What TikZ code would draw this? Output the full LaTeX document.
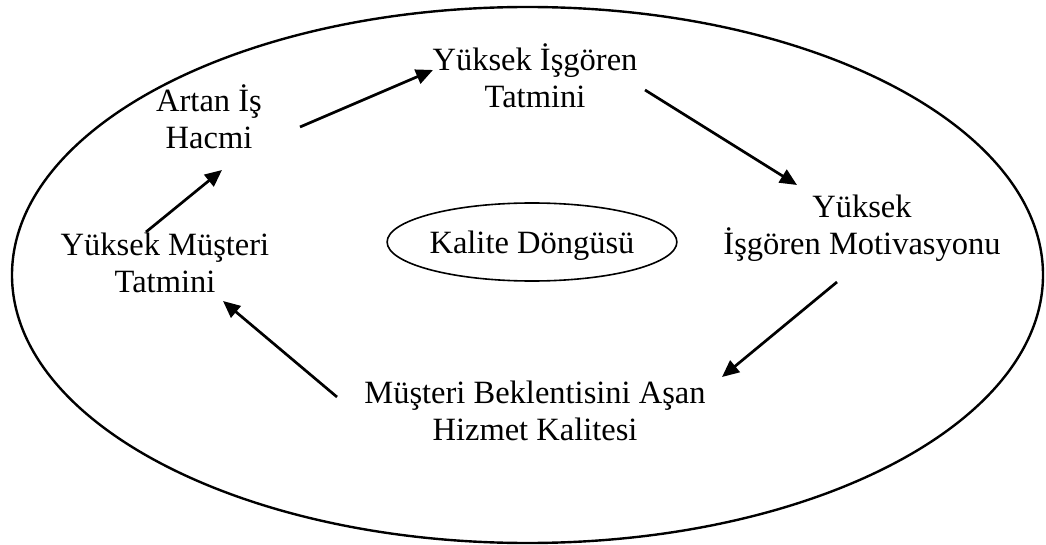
\documentclass[tikz,border=0pt]{standalone}
\usepackage{fontspec}
\setmainfont{Liberation Serif}
\usetikzlibrary{arrows.meta,shapes.geometric}
\begin{document}
\begin{tikzpicture}[x=1pt,y=-1pt,
  lbl/.style={align=center,inner sep=0pt,font=\fontsize{32.5}{37}\selectfont},
  flow/.style={line width=2.7pt,-{Triangle[length=17pt,width=15pt]}},
  ring/.style={line width=2.4pt}]
\useasboundingbox (0,0) rectangle (1046,545);
% outer cycle
\draw[ring] (527.5,275) ellipse [x radius=515.5, y radius=268];
% stages of the cycle
\node[lbl] (hacim) at (209,117) {Artan İş\\Hacmi};
\node[lbl] (tatmin) at (535,76) {Yüksek İşgören\\Tatmini};
\node[lbl] (motiv) at (862,228) {Yüksek\\İşgören Motivasyonu};
\node[lbl] (hizmet) at (535,411) {Müşteri Beklentisini Aşan\\Hizmet Kalitesi};
\node[lbl] (musteri) at (165,263) {Yüksek Müşteri\\Tatmini};
% centre label
\node[lbl,draw,ellipse,line width=1.6pt,text depth=0pt,minimum width=238pt,minimum height=78pt] (kalite) at (532,242) {Kalite Döngüsü};
% arrow ends
\coordinate (a1) at (300,127); \coordinate (b1) at (433,70);
\coordinate (a2) at (645,90);  \coordinate (b2) at (797,185);
\coordinate (a3) at (837,282); \coordinate (b3) at (722,377);
\coordinate (a4) at (337,397); \coordinate (b4) at (223,301);
\coordinate (a5) at (146,232); \coordinate (b5) at (222,170);
\draw[flow] (a1) -- (b1);
\draw[flow] (a2) -- (b2);
\draw[flow] (a3) -- (b3);
\draw[flow] (a4) -- (b4);
\draw[flow] (a5) -- (b5);
\end{tikzpicture}
\end{document}
